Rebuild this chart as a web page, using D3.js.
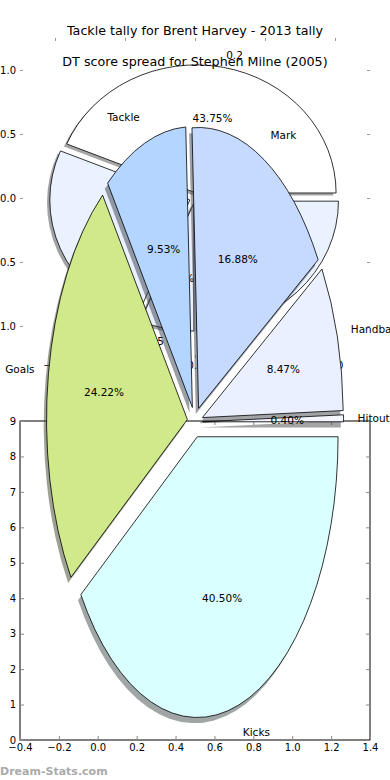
<!DOCTYPE html>
<html>
<head>
<meta charset="utf-8">
<script src="https://cdn.jsdelivr.net/npm/d3@7"></script>
<style>
    body { margin: 0; background: #fff; }
    svg { display: block; font-family: "DejaVu Sans", sans-serif; }
</style>
</head>
<body>
<div id="chart"></div>
<script>
// back chart - Tackle tally for Brent Harvey
const backTitle = 'Tackle tally for Brent Harvey - 2013 tally';
const backLabels = ['0.2', '', '0.05', ''];
const backValues = [43.75, 25.0, 6.25, 25.0];
const backShowPct = [true, false, true, false];
const backColors = ['#ffffff', '#eaf1ff', '#e9efff', '#eaf1ff'];
const backExplode = [0.04, 0.04, 0.04, 0.035];
const backTicks = [-1, -0.5, 0, 0.5, 1];

// front chart - DT score spread for Stephen Milne
const frontTitle = 'DT score spread for Stephen Milne (2005)';
const frontLabels = ['Hitout', 'Handball', 'Mark', 'Tackle', 'Goals', 'Kicks'];
const frontValues = [0.40, 8.47, 16.88, 9.53, 24.22, 40.50];
const frontColors = ['#f3f6ff', '#eaf0ff', '#c6d9ff', '#b3d5ff', '#cfe98b', '#d9ffff'];
const frontExplode = [0.055, 0.055, 0.055, 0.055, 0.055, 0.055];

// empty axes left underneath
const gridXTicks = [-0.4, -0.2, 0.0, 0.2, 0.4, 0.6, 0.8, 1.0, 1.2, 1.4];
const gridYTicks = [0, 1, 2, 3, 4, 5, 6, 7, 8, 9];

const width = 390;
const height = 780;
const fmt1 = d3.format('.1f');

const svg = d3.select('#chart')
    .append('svg')
    .attr('width', width)
    .attr('height', height);

// draws a matplotlib-like pie (ccw from east, elliptical because aspect isn't equal)
function drawPie(g, o) {
    const rx = o.x(1) - o.x(0);
    const ry = o.y(0) - o.y(1);
    const unitArc = d3.arc().innerRadius(0).outerRadius(1);
    const total = d3.sum(o.values);

    const items = d3.pie().sort(null).value(d => d)(o.values).map((a, i) => {
        const t1 = a.startAngle;
        const t2 = a.endAngle;
        const mid = (t1 + t2) / 2;
        return {
            i,
            t1,
            t2,
            mid,
            cx: o.x(o.explode[i] * Math.cos(mid)),
            cy: o.y(o.explode[i] * Math.sin(mid))
        };
    });
    const wedgePath = d => unitArc({ startAngle: Math.PI / 2 - d.t2, endAngle: Math.PI / 2 - d.t1 });

    // shadows first, under every wedge
    g.selectAll('path.shadow')
        .data(items)
        .join('path')
        .attr('class', 'shadow')
        .attr('d', wedgePath)
        .attr('transform', d => `translate(${d.cx - 0.02 * rx},${d.cy + 0.02 * ry}) scale(${rx},${ry})`)
        .attr('fill', d => {
            const c = d3.rgb(o.colors[d.i]);
            return d3.rgb(c.r * 0.3, c.g * 0.3, c.b * 0.3);
        })
        .attr('fill-opacity', 0.5);

    g.selectAll('path.wedge')
        .data(items)
        .join('path')
        .attr('class', 'wedge')
        .attr('d', wedgePath)
        .attr('transform', d => `translate(${d.cx},${d.cy}) scale(${rx},${ry})`)
        .attr('fill', d => o.colors[d.i])
        .attr('stroke', '#000')
        .attr('stroke-width', 0.8)
        .attr('vector-effect', 'non-scaling-stroke');

    g.selectAll('text.lbl')
        .data(items.filter(d => o.labels[d.i] !== ''))
        .join('text')
        .attr('class', 'lbl')
        .attr('x', d => d.cx + 1.1 * rx * Math.cos(d.mid))
        .attr('y', d => d.cy - 1.1 * ry * Math.sin(d.mid))
        .attr('text-anchor', d => Math.cos(d.mid) > 0 ? 'start' : 'end')
        .attr('dominant-baseline', 'central')
        .attr('font-size', 10.5)
        .text(d => o.labels[d.i]);

    g.selectAll('text.pct')
        .data(items.filter(d => o.showPct[d.i]))
        .join('text')
        .attr('class', 'pct')
        .attr('x', d => d.cx + 0.6 * rx * Math.cos(d.mid))
        .attr('y', d => d.cy - 0.6 * ry * Math.sin(d.mid))
        .attr('text-anchor', 'middle')
        .attr('dominant-baseline', 'central')
        .attr('font-size', 10.5)
        .text(d => `${(100 * o.values[d.i] / total).toFixed(2)}%`);
}

// ---- back chart: axes ticks without frame ----
const xB = d3.scaleLinear().domain([-1.25, 1.25]).range([20, 370]);
const yB = d3.scaleLinear().domain([-1.25, 1.25]).range([358, 38]);

const backAxes = [
    { axis: d3.axisLeft(yB), tr: `translate(${xB.range()[0]},0)`, labels: true },
    { axis: d3.axisRight(yB), tr: `translate(${xB.range()[1]},0)`, labels: false },
    { axis: d3.axisTop(xB), tr: `translate(0,${yB.range()[1]})`, labels: false },
    { axis: d3.axisBottom(xB), tr: `translate(0,${yB.range()[0]})`, labels: true }
];
backAxes.forEach(a => {
    const ag = svg.append('g')
        .attr('transform', a.tr)
        .call(a.axis.tickValues(backTicks)
            .tickSizeInner(-3)
            .tickSizeOuter(0)
            .tickPadding(4)
            .tickFormat(a.labels ? fmt1 : ''));
    ag.select('.domain').remove();
    ag.selectAll('.tick line').attr('stroke', '#999');
    ag.selectAll('.tick text').attr('font-size', 10).attr('fill', '#000')
        .attr('font-family', '"DejaVu Sans", sans-serif');
});

drawPie(svg.append('g'), {
    values: backValues,
    labels: backLabels,
    showPct: backShowPct,
    colors: backColors,
    explode: backExplode,
    x: xB,
    y: yB
});

svg.append('text')
    .attr('x', 195)
    .attr('y', 30)
    .attr('text-anchor', 'middle')
    .attr('dominant-baseline', 'central')
    .attr('font-size', 12.7)
    .text(backTitle);

// ---- empty axes below ----
const xG = d3.scaleLinear().domain([-0.4, 1.4]).range([20, 370]);
const yG = d3.scaleLinear().domain([0, 9]).range([740, 421]);

const gridG = svg.append('g');
gridG.append('rect')
    .attr('x', xG.range()[0])
    .attr('y', yG.range()[1])
    .attr('width', xG.range()[1] - xG.range()[0])
    .attr('height', yG.range()[0] - yG.range()[1])
    .attr('fill', 'none')
    .attr('stroke', '#000')
    .attr('stroke-width', 1);

const gridAxes = [
    { axis: d3.axisBottom(xG).tickValues(gridXTicks), tr: `translate(0,${yG.range()[0]})`, f: fmt1 },
    { axis: d3.axisTop(xG).tickValues(gridXTicks), tr: `translate(0,${yG.range()[1]})`, f: '' },
    { axis: d3.axisLeft(yG).tickValues(gridYTicks), tr: `translate(${xG.range()[0]},0)`, f: d3.format('d') },
    { axis: d3.axisRight(yG).tickValues(gridYTicks), tr: `translate(${xG.range()[1]},0)`, f: '' }
];
gridAxes.forEach(a => {
    const ag = gridG.append('g')
        .attr('transform', a.tr)
        .call(a.axis.tickSizeInner(-4).tickSizeOuter(0).tickPadding(4).tickFormat(a.f));
    ag.select('.domain').remove();
    ag.selectAll('.tick line').attr('stroke', '#888');
    ag.selectAll('.tick text').attr('font-size', 10).attr('fill', '#000')
        .attr('font-family', '"DejaVu Sans", sans-serif');
});

// ---- front chart ----
const xF = d3.scaleLinear().domain([-1.25, 1.25]).range([19, 371]);
const yF = d3.scaleLinear().domain([-1.25, 1.25]).range([773, 71]);

drawPie(svg.append('g'), {
    values: frontValues,
    labels: frontLabels,
    showPct: frontLabels.map(() => true),
    colors: frontColors,
    explode: frontExplode,
    x: xF,
    y: yF
});

svg.append('text')
    .attr('x', 195)
    .attr('y', 61)
    .attr('text-anchor', 'middle')
    .attr('dominant-baseline', 'central')
    .attr('font-size', 12.7)
    .text(frontTitle);

svg.append('text')
    .attr('x', 0)
    .attr('y', 775)
    .attr('font-size', 11)
    .attr('font-weight', 'bold')
    .attr('fill', '#aaa')
    .text('Dream-Stats.com');
</script>
</body>
</html>
